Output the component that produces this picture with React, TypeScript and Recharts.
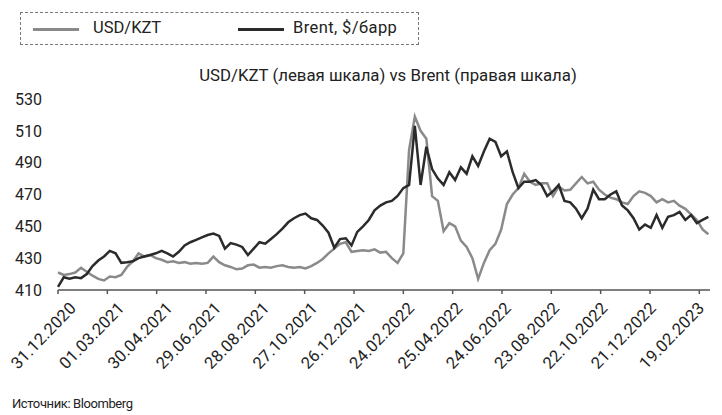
import React from 'react';
import { LineChart, Line, XAxis, YAxis } from 'recharts';

// USD/KZT weekly, left scale
const usdKzt = [
  421, 419.5, 420, 421, 424, 421.5, 419, 417, 416, 418.5,
  418, 419.5, 424.5, 428, 433, 431, 432, 430, 429, 427.5,
  428, 427, 427.5, 426.5, 427, 426.5, 427, 431, 427.5, 425.5,
  424.5, 423, 423.5, 425.5, 426, 424, 424.5, 424, 425, 425.5,
  424.5, 424, 424.5, 423.5, 425, 427, 429.5, 433, 436, 439,
  440, 434, 434.5, 435, 434.5, 435.5, 433.5, 434, 430, 427,
  433, 498, 519, 510, 505, 469, 466, 447, 452, 450,
  441, 437, 430, 417, 427, 435, 439, 448, 464, 470,
  474, 483, 478, 476, 477, 477, 469, 475, 472.5, 473,
  477, 481, 477, 478, 473, 470, 468, 467, 465, 464,
  469, 472, 471, 469, 465, 467, 465, 466, 463, 461,
  457.5, 454, 448, 445,
];

// Brent, $/барр weekly, right scale
const brent = [
  51.5, 56, 55.3, 56, 55.6, 57.5, 61.3, 63.9, 65.8, 68.4,
  67.3, 62.8, 63.1, 63.5, 65, 65.8, 66.5, 67.3, 68.4, 67.3,
  65.8, 68, 71, 72.5, 73.6, 74.8, 75.9, 76.6, 75.5, 69.5,
  72.1, 71.4, 70.3, 66.5, 69.5, 72.5, 71.8, 74, 76.3, 78.9,
  81.9, 83.8, 85.3, 86, 83.8, 83, 80.4, 77, 69.9, 74,
  74.4, 71, 77.4, 80, 83, 87.5, 89.8, 91.3, 92, 94.3,
  98, 99.5, 127.3, 99.5, 117.5, 107, 102.5, 99.5, 105.5, 101.8,
  107.8, 104.8, 113, 108.5, 115.3, 121.3, 119.8, 113, 115.3, 105.5,
  98, 101, 101, 101.8, 99.5, 94.3, 96.5, 99.5, 92, 91.3,
  88.3, 83.8, 88.3, 97.3, 92.8, 92.8, 95, 96.5, 89.8, 87.5,
  83.8, 78.5, 80.8, 79.3, 85.3, 79.3, 84.5, 85.3, 86.8, 83,
  85.3, 81.5, 83, 84.5,
];

const xTicks = [0, 60, 120, 180, 240, 300, 360, 420, 480, 540, 600, 660, 720, 780];
const yTicks = [410, 430, 450, 470, 490, 510, 530];

const START = Date.UTC(2020, 11, 31);
const DAY = 86400000;

const data = usdKzt.map((v, i) => ({ day: i * 7, usdKzt: v, brent: brent[i] }));

const fmtDate = (d: number) => {
  const dt = new Date(START + d * DAY);
  const dd = String(dt.getUTCDate()).padStart(2, '0');
  const mm = String(dt.getUTCMonth() + 1).padStart(2, '0');
  return `${dd}.${mm}.${dt.getUTCFullYear()}`;
};

const FONT = 'Roboto, "Noto Sans", sans-serif';

// labels drift slightly left of their ticks towards the right end, like the original
const DateTick = ({ x, y, payload }: any) => {
  const k = payload.value / 60;
  const ax = x + 19 - k;
  const ay = y + 13;
  return (
    <text
      x={ax}
      y={ay}
      transform={`rotate(-46, ${ax}, ${ay})`}
      textAnchor="end"
      fill="#222"
      fontSize={16.5}
      letterSpacing={0.2}
      fontFamily={FONT}
    >
      {fmtDate(payload.value)}
    </text>
  );
};

export default function App() {
  return (
    <div style={{ position: 'fixed', left: 0, top: 0, width: 722, height: 415, background: '#fff', fontFamily: FONT, color: '#222' }}>
      <div style={{ position: 'absolute', left: 20, top: 12, width: 397, height: 31, border: '1px dashed #777' }}>
        <div style={{ position: 'absolute', left: 12, top: 15, width: 46, height: 3, background: '#8a8a8a' }} />
        <div style={{ position: 'absolute', left: 72, top: 5, fontSize: 16.5, lineHeight: '20px' }}>USD/KZT</div>
        <div style={{ position: 'absolute', left: 217, top: 15, width: 46, height: 3, background: '#2b2b2b' }} />
        <div style={{ position: 'absolute', left: 272, top: 5, fontSize: 16.5, lineHeight: '20px', letterSpacing: 0.4 }}>Brent, $/барр</div>
      </div>
      <div style={{ position: 'absolute', left: 388, top: 65, transform: 'translateX(-50%)', whiteSpace: 'nowrap', fontSize: 16.8, lineHeight: '20px' }}>
        USD/KZT (левая шкала) vs Brent (правая шкала)
      </div>
      <div style={{ position: 'absolute', left: 0, top: 0 }}>
        <LineChart width={722} height={415} data={data} margin={{ top: 99, right: 12, bottom: 45, left: 0 }}>
          <XAxis
            dataKey="day"
            type="number"
            domain={[0, 793]}
            ticks={xTicks}
            interval={0}
            tick={<DateTick />}
            tickSize={4}
            height={80}
            axisLine={{ stroke: '#555', strokeWidth: 1.5 }}
            tickLine={{ stroke: '#555', strokeWidth: 1.5 }}
            yAxisId="left"
          />
          <YAxis
            yAxisId="left"
            domain={[410, 530]}
            ticks={yTicks}
            interval={0}
            width={58}
            axisLine={false}
            tickLine={false}
            tickMargin={10}
            tick={{ fill: '#222', fontSize: 16, fontFamily: FONT }}
          />
          <YAxis yAxisId="right" orientation="right" hide domain={[50, 140]} />
          <Line
            yAxisId="left"
            dataKey="usdKzt"
            type="linear"
            stroke="#8a8a8a"
            strokeWidth={2.5}
            dot={false}
            isAnimationActive={false}
          />
          <Line
            yAxisId="right"
            dataKey="brent"
            type="linear"
            stroke="#2b2b2b"
            strokeWidth={2.5}
            dot={false}
            isAnimationActive={false}
          />
        </LineChart>
      </div>
      <div style={{ position: 'absolute', left: 12, top: 395, fontSize: 13, lineHeight: '18px', letterSpacing: -0.4 }}>Источник: Bloomberg</div>
    </div>
  );
}
